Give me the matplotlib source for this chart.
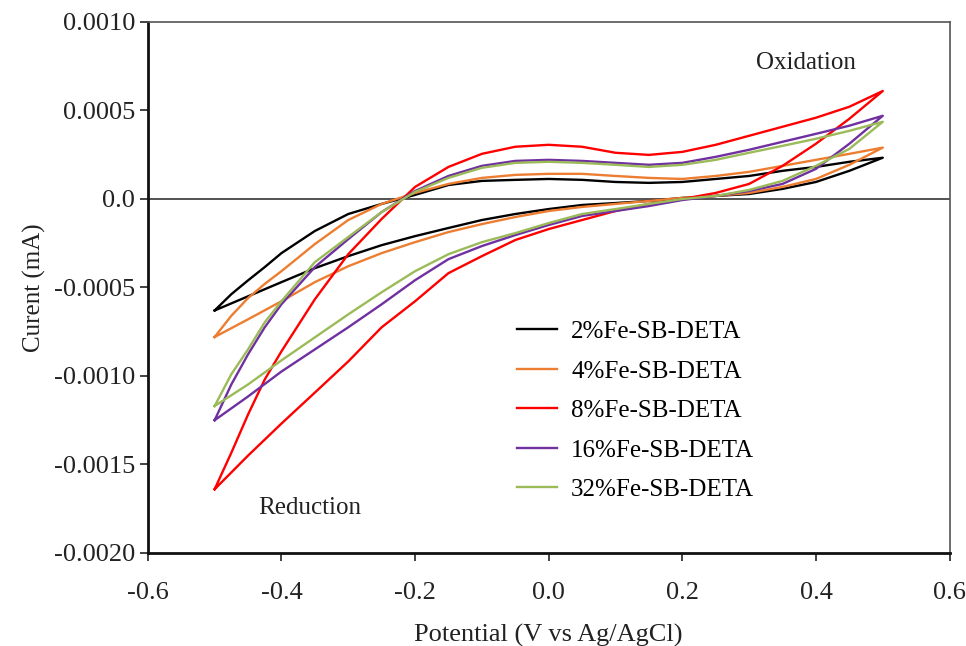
import matplotlib
matplotlib.use("Agg")
import matplotlib.pyplot as plt
import numpy as np

plt.rcParams['font.family'] = ['Liberation Serif', 'DejaVu Serif']
plt.rcParams['axes.unicode_minus'] = False

# potential sweep points (V vs Ag/AgCl)
# forward scan -0.5 -> 0.5 (a couple of extra points near the lower vertex)
pot_fwd = [-0.5, -0.475, -0.45, -0.425, -0.4, -0.35, -0.3, -0.25, -0.2, -0.15, -0.1, -0.05, 0.0,
           0.05, 0.1, 0.15, 0.2, 0.25, 0.3, 0.35, 0.4, 0.45, 0.5]
# reverse scan 0.5 -> -0.5
pot_rev = [0.5, 0.45, 0.4, 0.35, 0.3, 0.25, 0.2, 0.15, 0.1, 0.05, 0.0,
           -0.05, -0.1, -0.15, -0.2, -0.25, -0.3, -0.35, -0.4, -0.45, -0.5]

# currents in units of 1e-4 mA
fe2_fwd = [-6.3, -5.38, -4.6, -3.85, -3.06, -1.81, -0.85, -0.28, 0.23, 0.79, 1.02, 1.08, 1.13,
           1.08, 0.96, 0.91, 0.96, 1.13, 1.30, 1.59, 1.81, 2.10, 2.33]
fe2_rev = [2.33, 1.59, 0.96, 0.57, 0.28, 0.17, 0.06, -0.11, -0.23, -0.34, -0.57,
           -0.85, -1.19, -1.64, -2.10, -2.61, -3.23, -3.91, -4.70, -5.50, -6.3]

fe4_fwd = [-7.8, -6.6, -5.6, -4.8, -4.08, -2.55, -1.19, -0.28, 0.34, 0.85, 1.19, 1.36, 1.42,
           1.42, 1.30, 1.19, 1.13, 1.30, 1.53, 1.87, 2.21, 2.55, 2.9]
fe4_rev = [2.9, 1.93, 1.13, 0.68, 0.34, 0.17, 0.06, -0.11, -0.28, -0.45, -0.68,
           -1.02, -1.42, -1.87, -2.44, -3.06, -3.80, -4.70, -5.78, -6.80, -7.8]

fe8_fwd = [-16.4, -14.34, -12.18, -10.2, -8.61, -5.67, -3.12, -1.13, 0.68, 1.81, 2.55, 2.95, 3.06,
           2.95, 2.61, 2.49, 2.66, 3.06, 3.57, 4.08, 4.59, 5.21, 6.1]
fe8_rev = [6.1, 4.53, 3.12, 1.87, 0.85, 0.34, 0.0, -0.28, -0.68, -1.19, -1.70,
           -2.32, -3.23, -4.19, -5.78, -7.25, -9.18, -10.94, -12.69, -14.50, -16.4]

fe16_fwd = [-12.5, -10.48, -8.78, -7.25, -5.95, -3.85, -2.27, -0.74, 0.45, 1.30, 1.87, 2.15, 2.21,
            2.15, 2.04, 1.93, 2.04, 2.38, 2.78, 3.23, 3.68, 4.14, 4.7]
fe16_rev = [4.7, 3.12, 1.70, 0.85, 0.45, 0.17, -0.06, -0.40, -0.68, -0.96, -1.47,
            -2.04, -2.66, -3.40, -4.59, -5.95, -7.25, -8.50, -9.75, -11.16, -12.5]

fe32_fwd = [-11.7, -9.9, -8.5, -6.97, -5.78, -3.57, -2.15, -0.74, 0.40, 1.19, 1.76, 2.04, 2.10,
            2.04, 1.93, 1.81, 1.93, 2.21, 2.61, 3.00, 3.40, 3.85, 4.36]
fe32_rev = [4.36, 2.83, 1.87, 1.02, 0.51, 0.17, 0.0, -0.28, -0.57, -0.85, -1.36,
            -1.93, -2.44, -3.12, -4.08, -5.27, -6.52, -7.82, -9.12, -10.48, -11.7]

labels = ['2%Fe-SB-DETA', '4%Fe-SB-DETA', '8%Fe-SB-DETA', '16%Fe-SB-DETA', '32%Fe-SB-DETA']
colors = ['#000000', '#ED7D31', '#FF0000', '#7030A0', '#9BBB59']
curves = [(fe2_fwd, fe2_rev), (fe4_fwd, fe4_rev), (fe8_fwd, fe8_rev),
          (fe16_fwd, fe16_rev), (fe32_fwd, fe32_rev)]

yticks = [0.001, 0.0005, 0.0, -0.0005, -0.001, -0.0015, -0.002]
ytick_labels = ['0.0010', '0.0005', '0.0', '-0.0005', '-0.0010', '-0.0015', '-0.0020']
xticks = [-0.6, -0.4, -0.2, 0.0, 0.2, 0.4, 0.6]
xtick_labels = ['-0.6', '-0.4', '-0.2', '0.0', '0.2', '0.4', '0.6']

fig = plt.figure(figsize=(9.66, 6.46), dpi=100)
ax = fig.add_axes([0.153, 0.144, 0.83, 0.822])

ax.axhline(0, color='#444444', lw=1.3, zorder=1)

for (fwd, rev), c, lab in zip(curves, colors, labels):
    x = np.concatenate([pot_fwd, pot_rev])
    y = np.concatenate([fwd, rev]) * 1e-4
    ax.plot(x, y, color=c, lw=1.7, label=lab, zorder=2, solid_joinstyle='round')

ax.set_xlim(-0.6, 0.6)
ax.set_ylim(-0.002, 0.001)
ax.set_xticks(xticks)
ax.set_xticklabels(xtick_labels)
ax.set_yticks(yticks)
ax.set_yticklabels(ytick_labels)
ax.tick_params(direction='out', length=6, width=1.2, labelsize=19, colors='#222222')
ax.tick_params(axis='y', pad=3)
ax.tick_params(axis='x', pad=15)

for side in ['left', 'bottom']:
    ax.spines[side].set_linewidth(2)
    ax.spines[side].set_color('#111111')
for side in ['top', 'right']:
    ax.spines[side].set_linewidth(1.2)
    ax.spines[side].set_color('#555555')

ax.set_xlabel('Potential (V vs Ag/AgCl)', fontsize=19, color='#222222', labelpad=14)
ax.set_ylabel('Curent (mA)', fontsize=18, color='#222222', labelpad=6)

ax.text(0.385, 0.00077, 'Oxidation', fontsize=18, ha='center', va='center', color='#222222')
ax.text(-0.358, -0.001745, 'Reduction', fontsize=18, ha='center', va='center', color='#222222')

ax.legend(loc='upper left', bbox_to_anchor=(0.433, 0.48), frameon=False, fontsize=18,
          handlelength=1.6, handletextpad=0.55, labelspacing=0.68)

fig.savefig('out.png', dpi=100)
